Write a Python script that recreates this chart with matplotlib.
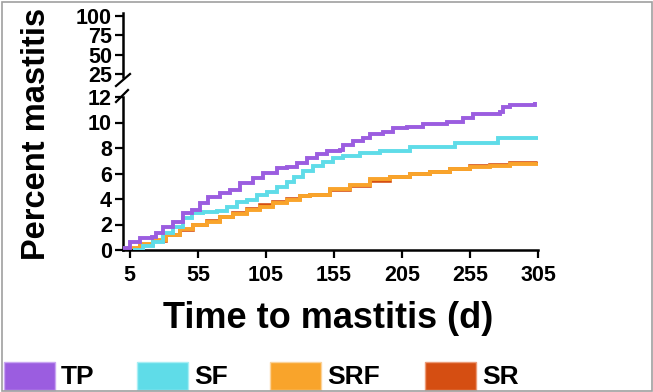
import matplotlib
matplotlib.use("Agg")
import matplotlib.pyplot as plt
from matplotlib.lines import Line2D
from matplotlib.patches import Rectangle

plt.rcParams['font.family'] = ['Liberation Sans', 'DejaVu Sans']
plt.rcParams['font.weight'] = 'bold'

# ---- data ----
tp_days = [0.1, 5, 12.4, 21, 24.6, 29.5, 36.8, 44.2, 50.4, 56.5, 62.6, 71.2, 78.5, 85.9, 95.7, 103,
           112.9, 120.2, 127.6, 135, 142.3, 149.6, 159.4, 161.8, 169.2, 176.5, 181.5, 191.3, 198.6,
           208.5, 220.7, 237.9, 250, 257.5, 277, 279.5, 284.4, 303]
tp_vals = [0.13, 0.65, 0.92, 1.0, 1.31, 1.78, 2.22, 2.87, 3.14, 3.66, 4.13, 4.44, 4.7, 5.23, 5.62,
           6.01, 6.4, 6.53, 6.8, 7.24, 7.5, 7.76, 7.84, 8.24, 8.55, 8.81, 9.07, 9.23, 9.54, 9.67,
           9.86, 10.07, 10.33, 10.64, 10.85, 11.24, 11.37, 11.58]

sf_days = [7.5, 14.8, 22.1, 29.5, 36.8, 44.2, 50.4, 59, 68.8, 76.1, 83.5, 90.8, 98.2, 105.5, 112.9,
           120.2, 126, 132.4, 139.8, 147, 154.5, 161.8, 174, 188.8, 210.9, 244, 275.8, 305]
sf_vals = [0, 0.31, 0.65, 1.31, 1.78, 2.48, 2.87, 3.0, 3.08, 3.4, 3.79, 3.92, 4.31, 4.57, 4.96,
           5.36, 5.75, 6.2, 6.61, 6.93, 7.19, 7.4, 7.58, 7.79, 8.1, 8.42, 8.76, 8.76]

srf_days = [3, 12.4, 22.1, 31.9, 41.8, 51.5, 61.4, 71.2, 81, 90.8, 100.6, 110.4, 120.2, 130, 137.4,
            152, 166.8, 181.5, 196.2, 210.9, 225.6, 240.3, 255, 269.7, 284.4, 305]
srf_vals = [0.13, 0.47, 0.78, 1.18, 1.62, 1.96, 2.22, 2.56, 2.82, 3.14, 3.4, 3.66, 3.92, 4.24, 4.31,
            4.76, 5.1, 5.54, 5.75, 5.96, 6.14, 6.33, 6.48, 6.59, 6.75, 6.8]

sr_days = [4, 12.4, 22.1, 31.9, 41.8, 51.5, 61.4, 71.2, 81, 90.8, 100.6, 110.4, 120.2, 130, 137.4,
           152, 166.8, 181.5, 196.2, 210.9, 225.6, 240.3, 255, 269.7, 284.4, 305]
sr_vals = [0.1, 0.42, 0.74, 1.16, 1.6, 1.95, 2.24, 2.6, 2.9, 3.24, 3.5, 3.76, 3.98, 4.26, 4.35,
           4.72, 5.04, 5.44, 5.7, 5.93, 6.14, 6.36, 6.55, 6.68, 6.83, 6.93]

series_names = ['TP', 'SF', 'SRF', 'SR']
series_colors = ['#9B5DE0', '#5FDCE8', '#F9A42B', '#D54E12']
series_edges = ['#C9A6F2', '#A8EEF4', '#FBD39A', '#EC9B78']
series_data = [(tp_days, tp_vals), (sf_days, sf_vals), (srf_days, srf_vals), (sr_days, sr_vals)]
series_lw = [2.8, 2.8, 2.8, 2.6]
series_z = [4, 3, 2.5, 2]

x_ticks = [5, 55, 105, 155, 205, 255, 305]
y_ticks_low = [0, 2, 4, 6, 8, 10, 12]
y_ticks_high = [25, 50, 75, 100]

W, H = 653, 392
fig = plt.figure(figsize=(W / 100, H / 100), dpi=100)

def fx(px):
    return px / W

def fy(py):
    return 1 - py / H

# lower axes: x 123..538, y 97..250
ax = fig.add_axes([fx(123), fy(250), fx(538) - fx(123), fy(97) - fy(250)])
# upper axes: y 13..77
ax2 = fig.add_axes([fx(123), fy(77), fx(538) - fx(123), fy(13) - fy(77)])

spine_lw = 1.8
for a in (ax, ax2):
    for s in ['top', 'right']:
        a.spines[s].set_visible(False)
    a.spines['left'].set_linewidth(spine_lw)
    a.spines['bottom'].set_linewidth(spine_lw)
    a.tick_params(axis='both', width=1.6, length=6, labelsize=15.5, pad=2)

ax2.spines['bottom'].set_visible(False)
ax2.set_xticks([])
ax2.set_xlim(0, 305)
ax2.set_ylim(21, 104)
ax2.set_yticks(y_ticks_high)
ax2.set_yticklabels([str(v) for v in y_ticks_high], fontweight='bold')

for (d, v), c, lw, z in zip(series_data, series_colors, series_lw, series_z):
    ax.step(d, v, where='post', color=c, lw=lw, zorder=z,
            solid_joinstyle='miter', solid_capstyle='butt')

ax.set_xlim(0, 305)
ax.set_ylim(0, 12)
ax.set_xticks(x_ticks)
ax.set_xticklabels([str(v) for v in x_ticks], fontweight='bold')
ax.set_yticks(y_ticks_low)
ax.set_yticklabels([str(v) for v in y_ticks_low], fontweight='bold')
ax.tick_params(axis='x', pad=5)

# break marks
for (x1, y1, x2, y2) in [(116, 86, 130, 74), (116, 102, 128, 90)]:
    fig.add_artist(Line2D([fx(x1), fx(x2)], [fy(y1), fy(y2)], transform=fig.transFigure,
                          color='black', lw=1.6))

# axis labels
fig.text(fx(328), fy(318), 'Time to mastitis (d)', ha='center', va='center',
         fontsize=26, fontweight='bold')
fig.text(fx(37), fy(134), 'Percent mastitis', ha='center', va='center', rotation=90,
         fontsize=23.5, fontweight='bold')

# legend
patch_x = [4, 137, 270, 425]
for name, c, ec, px in zip(series_names, series_colors, series_edges, patch_x):
    fig.add_artist(Rectangle((fx(px), fy(390)), fx(51), fy(362) - fy(390),
                             transform=fig.transFigure, facecolor=c, edgecolor=ec, lw=1))
    fig.text(fx(px + 57), fy(377), name, ha='left', va='center', fontsize=19, fontweight='bold')

# border
fig.add_artist(Rectangle((fx(1.5), fy(390.5)), fx(650), fy(1.5) - fy(390.5),
                         transform=fig.transFigure, facecolor='none', edgecolor='#A0A0A0', lw=1.2))

fig.savefig('out.png', dpi=100)
